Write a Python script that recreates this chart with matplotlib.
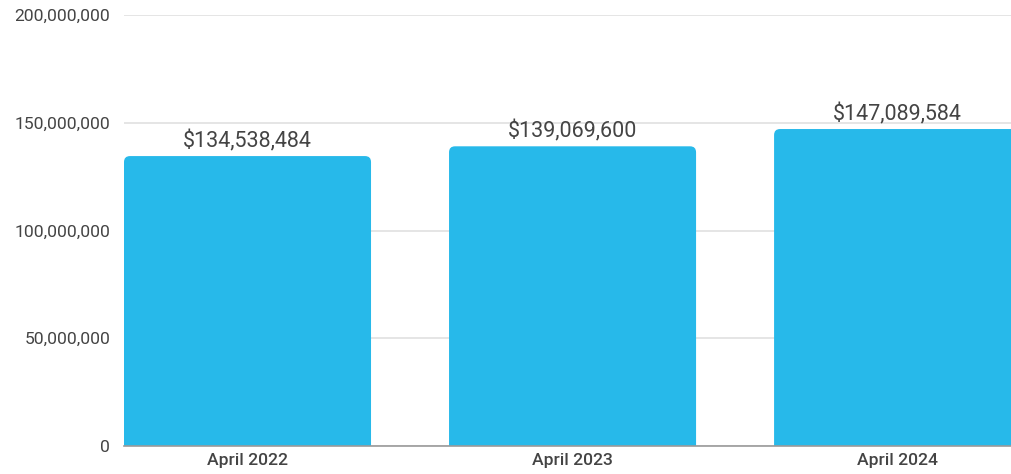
import matplotlib
matplotlib.use("Agg")
import matplotlib.pyplot as plt
from matplotlib.patches import FancyBboxPatch
from matplotlib.ticker import FuncFormatter

categories = ["April 2022", "April 2023", "April 2024"]
values = [134538484, 139069600, 147089584]
yticks = [0, 50000000, 100000000, 150000000, 200000000]

plt.rcParams['font.family'] = ['Roboto', 'DejaVu Sans']

fig = plt.figure(figsize=(10.12, 4.74), dpi=100)
ax = fig.add_axes([124 / 1012, 28 / 474, 888 / 1012, 431 / 474])

bar_w = 0.76
color = "#27B9EA"
ax.set_xlim(-bar_w / 2, 2.352)
ax.set_ylim(0, 200000000)

# px -> data scale, for rounded top corners
x_per_px = (2.352 + bar_w / 2) / 888
y_per_px = 200000000 / 431
r = 6 * x_per_px
aspect = y_per_px / x_per_px
pad = 20 * y_per_px

xs = list(range(len(categories)))
for x, v in zip(xs, values):
    p = FancyBboxPatch((x - bar_w / 2, -pad), bar_w, v + pad,
                       boxstyle="round,pad=0,rounding_size=%f" % r,
                       mutation_aspect=aspect, facecolor=color,
                       edgecolor="none", zorder=2)
    ax.add_patch(p)
    ax.text(x, v + 4 * y_per_px, "${:,}".format(v), ha="center", va="bottom",
            fontsize=15.5, color="#444444", zorder=3)

ax.set_xticks(xs)
ax.set_xticklabels(categories, fontweight="medium")
ax.set_yticks(yticks)
ax.yaxis.set_major_formatter(FuncFormatter(lambda v, p: "{:,}".format(int(v))))
ax.grid(axis="y", color="#e3e3e3", linewidth=1.3, zorder=0)
ax.set_axisbelow(True)

for s in ["top", "right", "left"]:
    ax.spines[s].set_visible(False)
ax.spines["bottom"].set_color("#9a9a9a")
ax.spines["bottom"].set_linewidth(1.2)
ax.spines["bottom"].set_zorder(4)
ax.tick_params(axis="both", length=0, labelsize=12.6, colors="#444444")
ax.tick_params(axis="y", pad=10)
ax.tick_params(axis="x", pad=5)

fig.savefig("out.png", dpi=100)
